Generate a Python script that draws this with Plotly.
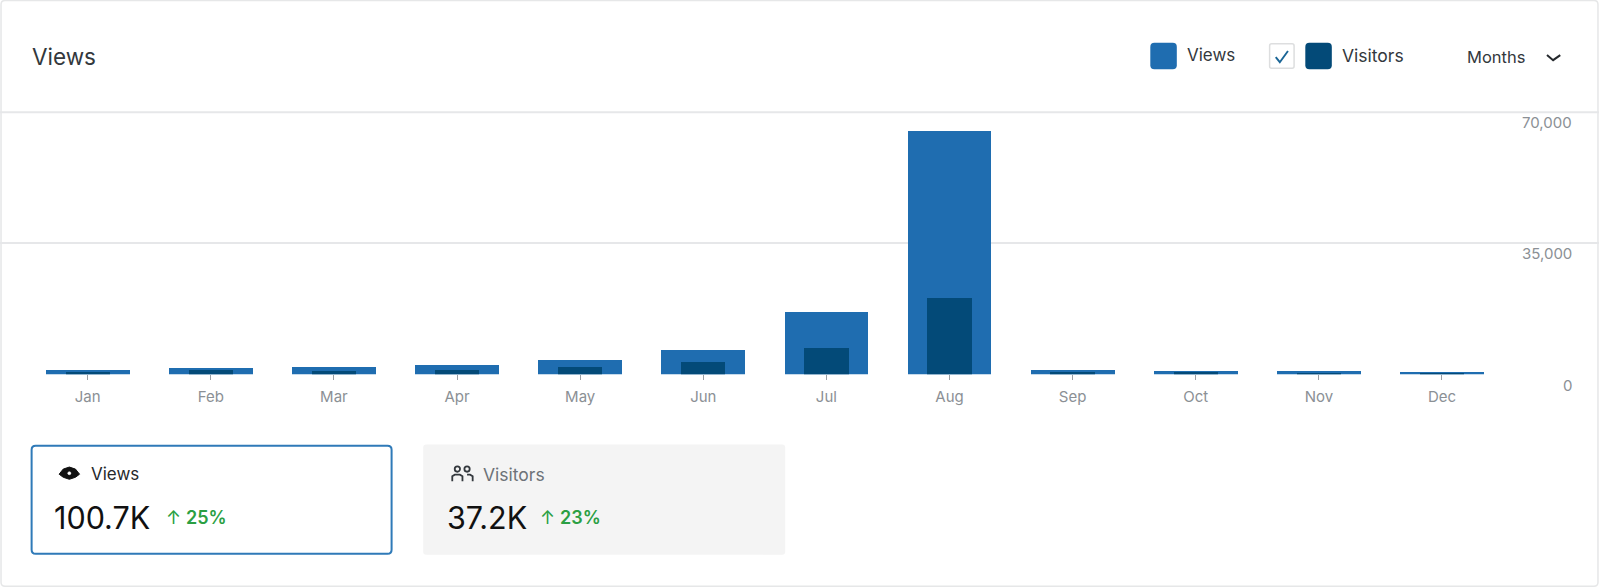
import plotly.graph_objects as go

months = ["Jan", "Feb", "Mar", "Apr", "May", "Jun", "Jul", "Aug", "Sep", "Oct", "Nov", "Dec"]
views = [1100, 1700, 1950, 2680, 3800, 6650, 16800, 64850, 1220, 1020, 880, 680]
visitors = [700, 1100, 1050, 1150, 2050, 3400, 7150, 20350, 800, 600, 500, 380]
y_ticks = [0, 35000, 70000]
y_tick_labels = ["0", "35,000", "70,000"]

W, H = 1599, 588
S = 1599 / 1568  # layout numbers below were measured on a 1568-wide view
VIEWS_C, VISITORS_C = "#1f6db0", "#034a78"
FONT = "Inter"
INK, MUTED, AXIS = "#33383d", "#6d7278", "#8b9095"
GREEN = "#2b9f43"


def px(x):
    return x * S / W


def py(y):
    return 1 - y * S / H


def rrect(x0, y0, x1, y1, r, fill, line=None, lw=0):
    a, b = px, py
    p = (f"M{a(x0+r)},{b(y0)} L{a(x1-r)},{b(y0)} Q{a(x1)},{b(y0)} {a(x1)},{b(y0+r)} "
         f"L{a(x1)},{b(y1-r)} Q{a(x1)},{b(y1)} {a(x1-r)},{b(y1)} L{a(x0+r)},{b(y1)} "
         f"Q{a(x0)},{b(y1)} {a(x0)},{b(y1-r)} L{a(x0)},{b(y0+r)} Q{a(x0)},{b(y0)} {a(x0+r)},{b(y0)} Z")
    return dict(type="path", xref="paper", yref="paper", path=p, fillcolor=fill,
                line=dict(color=line or fill, width=lw), layer="below")


def poly(points, color, width=1.5, fill=None, close=False):
    d = "M" + " L".join(f"{px(x)},{py(y)}" for x, y in points) + (" Z" if close else "")
    return dict(type="path", xref="paper", yref="paper", path=d,
                line=dict(color=color, width=width), fillcolor=fill or "rgba(0,0,0,0)", layer="above")


def dot(cx, cy, r, color, fill=None, width=1.5):
    return dict(type="circle", xref="paper", yref="paper", x0=px(cx - r), x1=px(cx + r),
                y0=py(cy + r), y1=py(cy - r), line=dict(color=color, width=width),
                fillcolor=fill or "rgba(0,0,0,0)", layer="above")


def label(x, y, text, size, color, anchor="left", weight=400):
    return dict(xref="paper", yref="paper", x=px(x), y=py(y), text=text, showarrow=False,
                xanchor=anchor, yanchor="middle", xshift=-2,
                font=dict(family=FONT, size=size, color=color, weight=weight))


fig = go.Figure()
fig.add_bar(x=months, y=views, name="Views", width=0.68, marker_color=VIEWS_C, marker_line_width=0)
fig.add_bar(x=months, y=visitors, name="Visitors", width=0.36, marker_color=VISITORS_C, marker_line_width=0)

shapes = [
    rrect(1, 0.5, 1567, 575, 4, "#ffffff", "#e6e7e8", 1.5),
    dict(type="line", xref="paper", yref="paper", x0=0, x1=1, y0=py(110), y1=py(110),
         line=dict(color="#e6e7e9", width=2), layer="below"),
    rrect(1128, 42, 1154, 68, 4, VIEWS_C),
    rrect(1245, 43, 1269, 67, 2, "#ffffff", "#dddedf", 1.5),
    poly([(1251, 56), (1255, 61), (1263, 50)], "#1a6596", 1.9),
    rrect(1280, 42, 1306, 68, 4, VISITORS_C),
    poly([(1517, 54), (1523, 59), (1530, 54)], "#25292d", 2),
    rrect(31, 437, 384, 543, 4, "#ffffff", "#2f7ab8", 2),
    rrect(415, 436, 770, 544, 3, "#f4f4f4"),
    poly([(58, 465), (62, 460), (68, 458), (74, 460), (78, 465), (74, 468), (68, 470), (62, 468)],
         "#111111", 1, "#111111", True),
    dot(68, 464, 1.5, "#ffffff", "#ffffff", 0.5),
    dot(448.5, 460, 2.6, "#33383d", width=1.8),
    dot(458, 460, 2.6, "#33383d", width=1.8),
    poly([(443.5, 472), (443.5, 467), (446, 465.5), (451, 465.5), (453.5, 467), (453.5, 472)], "#33383d", 1.8),
    poly([(458, 465.5), (461, 465.5), (463.5, 467), (463.5, 472)], "#33383d", 1.8),
]

annotations = [
    label(31, 55, "Views", 22.5, INK),
    label(1164, 54, "Views", 17, INK),
    label(1316, 54, "Visitors", 17.5, INK),
    label(1439, 56, "Months", 16.5, INK),
    label(89, 465, "Views", 17, "#26292c"),
    label(474, 465, "Visitors", 17.5, MUTED),
    label(53, 507, "100.7K", 30.5, "#111111"),
    label(163, 507, "↑", 18, GREEN),
    label(182, 507, "25%", 18, GREEN, weight=600),
    label(438, 507, "37.2K", 30.5, "#111111"),
    label(530, 507, "↑", 18, GREEN),
    label(549, 507, "23%", 18, GREEN, weight=600),
]
for v, t in zip(y_ticks, y_tick_labels):
    annotations.append(dict(xref="paper", yref="y", x=px(1543), y=v, text=t, showarrow=False,
                            xanchor="right", yanchor="middle", yshift=-11,
                            font=dict(family=FONT, size=15, color=AXIS)))

step = 120.73
fig.update_layout(
    width=W, height=H, margin=dict(l=0, r=0, t=0, b=0),
    paper_bgcolor="#ffffff", plot_bgcolor="rgba(0,0,0,0)",
    barmode="overlay", showlegend=False, bargap=0, barcornerradius=1,
    font=dict(family=FONT), shapes=shapes, annotations=annotations,
    xaxis=dict(type="category", categoryorder="array", categoryarray=months,
               range=[-86 / step, (W / S - 86) / step], showgrid=False, zeroline=False,
               showline=False, ticks="outside", ticklen=5, tickwidth=1, tickcolor="#9a9ea3",
               tickfont=dict(family=FONT, size=15, color=AXIS), ticklabelstandoff=4, anchor="y"),
    yaxis=dict(domain=[py(367), py(109.5)], range=[0, 70000], tickvals=y_ticks,
               showticklabels=False, gridcolor="#e6e7e9", gridwidth=2,
               zeroline=False, showline=False),
)

fig.write_html("out.html", config=dict(displayModeBar=False),
               post_script="document.body.style.margin='0';window.dispatchEvent(new Event('resize'));")
